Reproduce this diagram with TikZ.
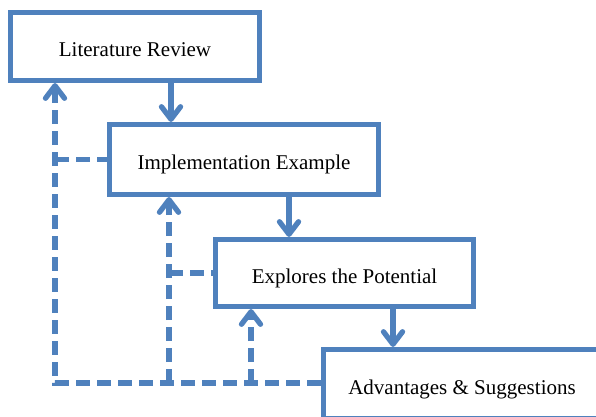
\documentclass[tikz,border=0pt]{standalone}
\usepackage{fontspec}
\setmainfont{Liberation Serif}
\usetikzlibrary{arrows.meta}
\definecolor{boxblue}{RGB}{79,129,189}
\begin{document}
\begin{tikzpicture}[x=1pt,y=-1pt,
  box/.style={draw=boxblue, line width=4.7pt, fill=white, font=\fontsize{21}{25}\selectfont, text height=20pt, text depth=0pt, inner sep=0pt},
  flow/.style={draw=boxblue, line width=5.3pt, -{Straight Barb[length=12.5pt,width=19pt,round]}},
  back/.style={draw=boxblue, line width=5.3pt, dash pattern=on 14pt off 7pt, -{Straight Barb[length=12.5pt,width=19pt,round]}},
  link/.style={draw=boxblue, line width=5.3pt, dash pattern=on 14pt off 7pt}]
\clip (0,0) rectangle (596,416);
\node[box, minimum width=249.5pt, minimum height=68.5pt] (a) at (135,46.5) {Literature Review};
\node[box, minimum width=269.5pt, minimum height=70.5pt] (b) at (244,159.5) {Implementation Example};
\node[box, minimum width=258.5pt, minimum height=67.5pt] (c) at (344.5,273) {Explores the Potential};
\node[box, minimum width=277.5pt, minimum height=69.5pt] (d) at (462,384) {Advantages \& Suggestions};
\coordinate (xl) at (55,0);
\coordinate (xm) at (169,0);
\coordinate (xr) at (251,0);
\coordinate (yb) at (0,383);
\coordinate (s1) at (171,0);
\coordinate (s2) at (289,0);
\coordinate (s3) at (393,0);
\draw[flow] (s1 |- a.south) -- (s1 |- b.north);
\draw[flow] (s2 |- b.south) -- (s2 |- c.north);
\draw[flow] (s3 |- c.south) -- (s3 |- d.north);
\draw[back] (d.west |- yb) -| (xl |- a.south);
\draw[back] (xm |- yb) -- (xm |- b.south);
\draw[back] (xr |- yb) -- (xr |- c.south);
\draw[link] (xl |- b.west) -- (b.west);
\draw[link] (xm |- c.west) -- (c.west);
\end{tikzpicture}
\end{document}
